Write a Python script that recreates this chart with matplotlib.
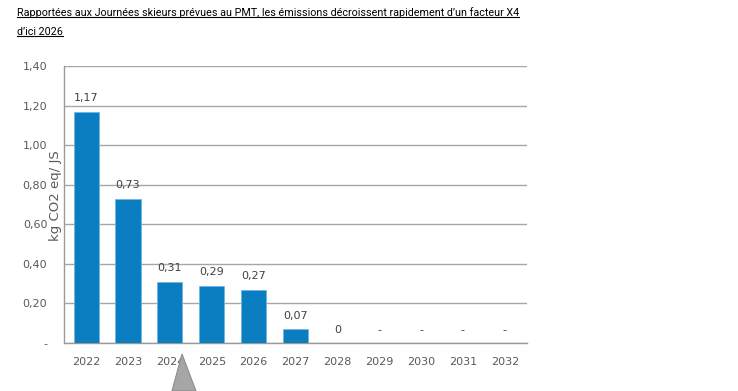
import matplotlib.pyplot as plt
from matplotlib.lines import Line2D
from matplotlib.patches import Polygon

years = ["2022", "2023", "2024", "2025", "2026", "2027", "2028", "2029", "2030", "2031", "2032"]
emissions = [1.17, 0.73, 0.31, 0.29, 0.27, 0.07, 0, 0, 0, 0, 0]
value_labels = ["1,17", "0,73", "0,31", "0,29", "0,27", "0,07", "0", "-", "-", "-", "-"]
y_ticks = [0, 0.2, 0.4, 0.6, 0.8, 1.0, 1.2, 1.4]
y_tick_labels = ["-", "0,20", "0,40", "0,60", "0,80", "1,00", "1,20", "1,40"]

title_lines = ["Rapportées aux Journées skieurs prévues au PMT, les émissions décroissent rapidement d\u2019un facteur X4",
               "d\u2019ici 2026"]

fig = plt.figure(figsize=(7.38, 3.91), dpi=100)
ax = fig.add_axes([64 / 738, 1 - 343 / 391, (527 - 64) / 738, (343 - 66) / 391])

x = range(len(years))
ax.bar(x, emissions, width=0.6, color="#0B7DC1", edgecolor="#6BB8E6", linewidth=0.6, zorder=3)

for i, (v, lab) in enumerate(zip(emissions, value_labels)):
    ax.annotate(lab, (i, v), xytext=(0, 6), textcoords="offset points",
                ha="center", va="bottom", fontsize=8, color="#404040")

ax.set_xlim(-0.53, len(years) - 0.47)
ax.set_ylim(0, 1.4)
ax.set_yticks(y_ticks)
ax.set_yticklabels(y_tick_labels)
ax.set_xticks(list(x))
ax.set_xticklabels(years)
ax.tick_params(axis="both", length=0, labelsize=8, labelcolor="#595959")
ax.tick_params(axis="x", pad=10)
ax.tick_params(axis="y", pad=12)
ax.grid(axis="y", color="#A6A6A6", linewidth=1.0, zorder=0)
for s in ["top", "right"]:
    ax.spines[s].set_visible(False)
for s in ["left", "bottom"]:
    ax.spines[s].set_color("#9A9A9A")
    ax.spines[s].set_linewidth(1.0)

fig.text(56 / 738, 1 - 196 / 391, "kg CO2 eq/ JS", rotation=90, ha="center", va="center",
         fontsize=9.5, color="#595959")

# title fitted to roughly the width of the original first line, with underline
renderer = fig.canvas.get_renderer()
probe = fig.text(0, 0, title_lines[0], fontsize=10, family="Roboto")
w = probe.get_window_extent(renderer=renderer).width
probe.remove()
title_size = 10 * 500 / w
for k, line in enumerate(title_lines):
    t = fig.text(17 / 738, 1 - (13 + k * 19) / 391, line, ha="left", va="center",
                 fontsize=title_size, family="Roboto", color="black")
    bb = t.get_window_extent(renderer=renderer)
    yline = bb.y0 + 1
    fig.add_artist(Line2D([bb.x0 / 738, bb.x1 / 738], [yline / 391, yline / 391],
                          transform=fig.transFigure, color="black", linewidth=0.8))

# grey callout triangle
tri = Polygon([[182 / 738, 1 - 354 / 391], [172 / 738, 0], [196 / 738, 0]], closed=True,
              transform=fig.transFigure, facecolor="#A6A6A6", edgecolor="#8C8C8C", linewidth=0.8)
fig.add_artist(tri)

fig.savefig("out.png", dpi=100)
